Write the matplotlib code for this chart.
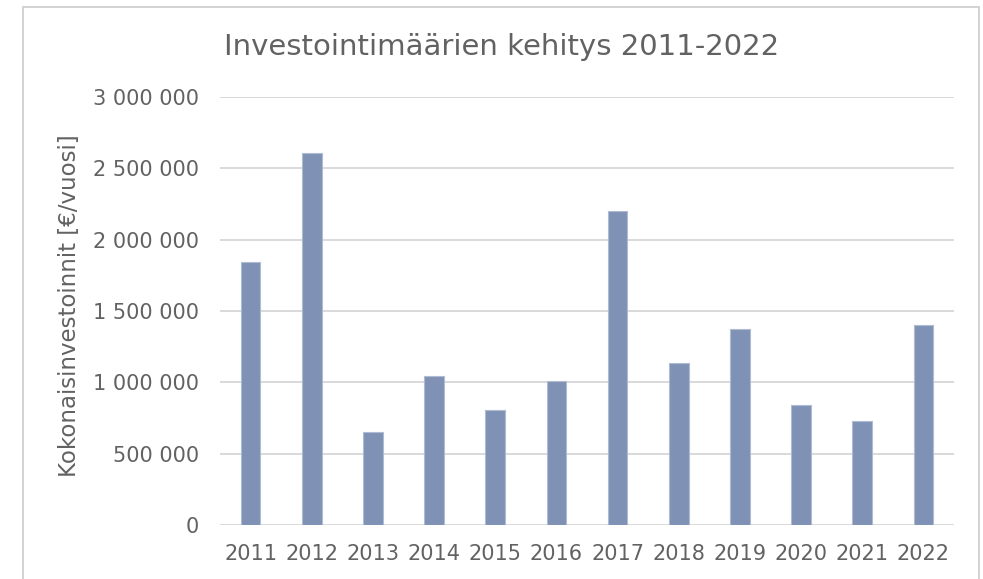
import matplotlib
matplotlib.use('Agg')
import matplotlib.pyplot as plt
from matplotlib.patches import Rectangle
from matplotlib.ticker import FuncFormatter, MultipleLocator

YEARS = ['2011', '2012', '2013', '2014', '2015', '2016',
         '2017', '2018', '2019', '2020', '2021', '2022']
INVESTMENTS = [1845000, 2605000, 655000, 1045000, 805000, 1012000,
               2203000, 1133000, 1371000, 839000, 731000, 1399000]

TITLE = 'Investointimäärien kehitys 2011-2022'
YLABEL = 'Kokonaisinvestoinnit [€/vuosi]'

TEXT = '#626262'
GRID = '#d9d9d9'
BAR = '#7f92b5'
W, H = 983, 579


def thousands(v, _pos):
    return f'{int(v):,}'.replace(',', ' ')


plt.rcParams['font.family'] = ['DejaVu Sans']

fig = plt.figure(figsize=(W / 100, H / 100), dpi=100, facecolor='white')
ax = fig.add_axes([220 / W, 1 - 525 / H, (954 - 220) / W, (525 - 97) / H])

x = range(len(YEARS))
ax.bar(x, INVESTMENTS, width=0.32, color=BAR, edgecolor='#aebbd3',
       linewidth=0.8, zorder=3)

ax.set_xlim(-0.5, len(YEARS) - 0.5)
ax.set_ylim(0, 3000000)
ax.yaxis.set_major_locator(MultipleLocator(500000))
ax.yaxis.set_major_formatter(FuncFormatter(thousands))
ax.set_xticks(list(x))
ax.set_xticklabels(YEARS)
ax.grid(axis='y', color=GRID, linewidth=1.4, zorder=0)
ax.set_axisbelow(True)
for spine in ax.spines.values():
    spine.set_visible(False)
ax.tick_params(axis='both', length=0, labelsize=15, colors=TEXT)
ax.tick_params(axis='y', pad=15)
ax.tick_params(axis='x', pad=14)

fig.text(502 / W, 1 - 47 / H, TITLE, ha='center', va='center',
         fontsize=21, color=TEXT)
fig.text(70 / W, 1 - 306 / H, YLABEL, ha='center', va='center',
         rotation=90, fontsize=16.5, color=TEXT)

# outer chart frame (bottom edge runs off the image)
fig.patches.append(Rectangle((23 / W, -0.05), (979 - 23) / W, 1.05 - 7 / H,
                             transform=fig.transFigure, fill=False,
                             edgecolor='#cfcfcf', linewidth=1.3))

fig.savefig('out.png', dpi=100, facecolor='white')
